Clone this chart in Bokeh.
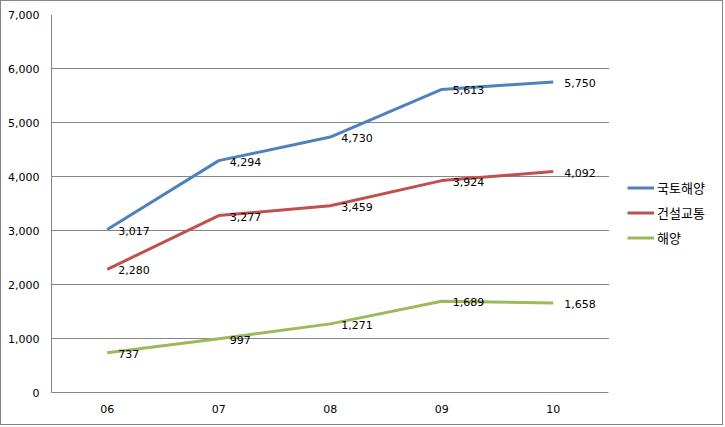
from bokeh.plotting import figure
from bokeh.models import (ColumnDataSource, Legend, LegendItem, FixedTicker,
                          NumeralTickFormatter, Range1d, BoxAnnotation)
from bokeh.core.properties import value
from bokeh.embed import file_html
from bokeh.resources import INLINE

years = ["06", "07", "08", "09", "10"]
series_names = ["국토해양", "건설교통", "해양"]
land_marine = [3017, 4294, 4730, 5613, 5750]
construction = [2280, 3277, 3459, 3924, 4092]
marine = [737, 997, 1271, 1689, 1658]
colors = ["#4F81BD", "#C0504D", "#9BBB59"]
y_ticks = [0, 1000, 2000, 3000, 4000, 5000, 6000, 7000]

GRID = "#868686"
NUM_FONT = "DejaVu Sans"

xs = list(range(len(years)))
cat_lo, cat_hi = -0.5, len(years) - 0.5
LEGEND_ROOM = 1.036   # extra room (in category bands) right of the plot area for the legend

p = figure(width=723, height=425,
           x_range=Range1d(cat_lo, cat_hi + LEGEND_ROOM),
           y_range=Range1d(0, 7000),
           output_backend="svg", toolbar_location=None,
           min_border_left=50, min_border_right=0,
           min_border_top=13, min_border_bottom=34)
p.styles = {"border": "1px solid #868686"}

p.outline_line_color = None
p.background_fill_color = "white"
p.border_fill_color = "white"

p.xgrid.visible = False
p.ygrid.grid_line_color = GRID
p.ygrid.grid_line_width = 1

# hide grid lines to the right of the plot area (legend area)
cover = BoxAnnotation(left=cat_hi, fill_color="white", fill_alpha=1,
                      line_color=None, level="underlay")
p.add_layout(cover)

p.yaxis.ticker = FixedTicker(ticks=y_ticks)
p.yaxis.formatter = NumeralTickFormatter(format="0,0")
p.xaxis.ticker = FixedTicker(ticks=xs)
p.xaxis.major_label_overrides = {i: y for i, y in zip(xs, years)}
p.xaxis.bounds = (cat_lo, cat_hi)
for ax in (p.xaxis[0], p.yaxis[0]):
    ax.axis_line_color = GRID
    ax.major_tick_in = 0
    ax.major_tick_out = 0
    ax.minor_tick_in = 0
    ax.minor_tick_out = 0
    ax.major_label_text_font = NUM_FONT
    ax.major_label_text_font_size = "11px"
    ax.major_label_text_color = "black"
    ax.major_label_standoff = 12

items = []
for name, vals, col in zip(series_names, [land_marine, construction, marine], colors):
    src = ColumnDataSource(dict(x=xs, y=vals, lab=[f"{v:,}" for v in vals]))
    r = p.line("x", "y", source=src, line_color=col, line_width=3, line_join="round")
    p.text("x", "y", text="lab", source=src, x_offset=11, y_offset=1,
           text_baseline="middle", text_align="left",
           text_font=value(NUM_FONT), text_font_size="11px", text_color="black")
    items.append(LegendItem(label=name, renderers=[r]))

legend = Legend(items=items, location=(576, 144), padding=0, margin=0,
                border_line_color=None, background_fill_alpha=0,
                glyph_width=27, glyph_height=21, label_height=21,
                spacing=4, label_standoff=3,
                label_text_font="Noto Sans CJK KR", label_text_font_size="13px",
                label_text_color="black")
p.add_layout(legend, "center")

open("out.html", "w").write(file_html(p, INLINE))
